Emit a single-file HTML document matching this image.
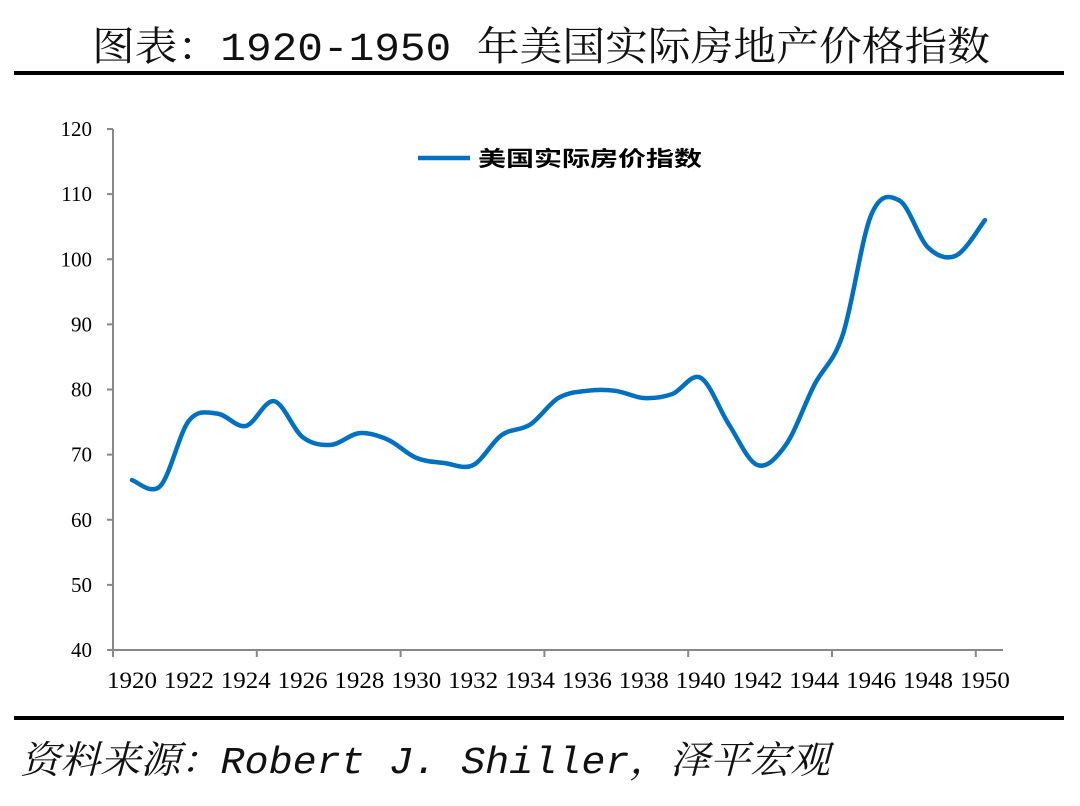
<!DOCTYPE html>
<html><head><meta charset="utf-8"><style>
body{margin:0;background:#fff;width:1080px;height:801px;overflow:hidden}
svg text{font-family:"Liberation Serif","Noto Serif CJK SC",serif}
</style></head><body>
<svg width="1080" height="801">
<text x="92" y="60" font-size="40" fill="#111" textLength="898" lengthAdjust="spacingAndGlyphs" style='font-family:"Liberation Mono","Noto Serif CJK SC",serif'>图表：1920-1950 年美国实际房地产价格指数</text>
<rect x="14" y="71" width="1050" height="4" fill="#000"/>
<rect x="14" y="716" width="1050" height="4" fill="#000"/>
<text x="20" y="773" font-size="38" font-style="italic" fill="#111" textLength="810" lengthAdjust="spacingAndGlyphs" style='font-family:"Liberation Mono","Noto Serif CJK SC",serif'>资料来源：Robert J. Shiller，泽平宏观</text>
<g id="axes"></g>
<path id="line" fill="none" stroke="#0070C0" stroke-width="4.5" stroke-linecap="round"/>
<line x1="418" y1="158" x2="470" y2="158" stroke="#0070C0" stroke-width="4.5"/>
<text x="478" y="166" font-size="21" font-weight="bold" fill="#000" textLength="224" lengthAdjust="spacingAndGlyphs" style='font-family:"Noto Sans CJK SC",sans-serif'>美国实际房价指数</text>
</svg>
<script>
const years=[1920,1921,1922,1923,1924,1925,1926,1927,1928,1929,1930,1931,1932,1933,1934,1935,1936,1937,1938,1939,1940,1941,1942,1943,1944,1945,1946,1947,1948,1949,1950];
const values=[66.1,65.2,75.2,76.3,74.4,78.2,72.7,71.5,73.3,72.3,69.5,68.7,68.4,73,74.6,78.7,79.8,79.8,78.7,79.3,81.8,74.6,68.4,71.5,80.7,88.4,106.8,109.0,101.8,100.6,106];
const yTicks=[40,50,60,70,80,90,100,110,120];
const xLabels=[1920,1922,1924,1926,1928,1930,1932,1934,1936,1938,1940,1942,1944,1946,1948,1950];
const ns="http://www.w3.org/2000/svg";
const X=y=>132+(y-1920)*28.43;
const Y=v=>650-(v-40)*6.5125;
const g=document.getElementById('axes');
function mk(t,a){const e=document.createElementNS(ns,t);for(const k in a)e.setAttribute(k,a[k]);g.appendChild(e);return e;}
let e=mk('line',{x1:113,y1:129,x2:113,y2:650,stroke:'#888','stroke-width':2});


e=mk('line',{x1:113,y1:650,x2:1003,y2:650,stroke:'#888','stroke-width':2});


yTicks.forEach(v=>{
 const t=mk('line',{x1:107,y1:Y(v),x2:113,y2:Y(v),stroke:'#888','stroke-width':2});
 
 
 const l=mk('text',{x:92,y:Y(v)+7,'text-anchor':'end','font-size':21,fill:'#000'});
 l.textContent=v;
 
 
});
for(let k=0;k<7;k++){
 const t=mk('line',{x1:113+k*143.8,y1:650,x2:113+k*143.8,y2:657,stroke:'#888','stroke-width':2});
 
 
}
xLabels.forEach(y=>{
 const l=mk('text',{x:X(y)-25,y:688,'font-size':23,fill:'#000',textLength:50,lengthAdjust:'spacingAndGlyphs'});
 l.textContent=y;
 
 
});
const P=years.map((y,i)=>[X(y),Y(values[i])]);
let d='M'+P[0][0]+','+P[0][1];
for(let i=0;i<P.length-1;i++){
 const p0=P[Math.max(0,i-1)],p1=P[i],p2=P[i+1],p3=P[Math.min(P.length-1,i+2)];
 const c1=[p1[0]+(p2[0]-p0[0])/6,p1[1]+(p2[1]-p0[1])/6];
 const c2=[p2[0]-(p3[0]-p1[0])/6,p2[1]-(p3[1]-p1[1])/6];
 d+=' C'+c1+' '+c2+' '+p2;
}
document.getElementById('line').setAttribute('d',d);
</script>
</body></html>
